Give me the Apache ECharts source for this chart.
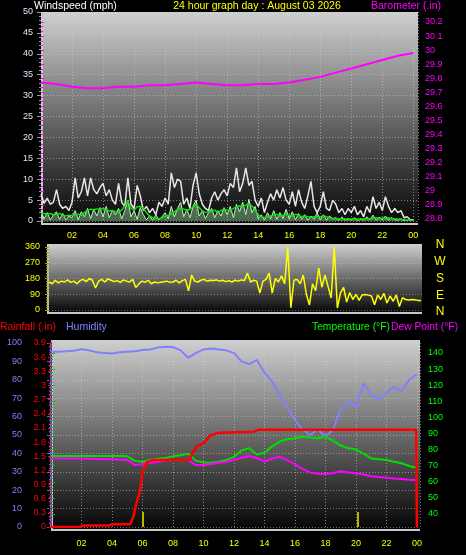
<!DOCTYPE html>
<html><head><meta charset="utf-8">
<script src="https://cdn.jsdelivr.net/npm/echarts@6/dist/echarts.min.js"></script>
<style>html,body{margin:0;padding:0;background:#000;}#c{width:466px;height:555px;}</style>
</head><body><div id="c"></div>
<script>
// ---------- DATA ----------
const titleText = '24 hour graph day : August 03 2026';
const windStep = 0.2; // hours between wind samples
const windGust = [
 6.5,4.2,5.5,4.0,4.5, 7.5,4.0,3.0,3.5,2.5, 4.5,10.3,5.5,7.0,10.3, 6.0,10.3,7.5,6.5,8.0,
 9.0,6.0,7.5,5.0,4.0, 9.0,4.5,3.5,10.3,4.0, 3.0,8.5,6.0,2.5,3.5, 2.0,3.0,1.5,4.5,3.5,
 5.5,4.0,11.5,8.0,10.0, 9.5,4.0,5.5,3.0,8.5, 11.5,6.5,4.0,3.0,2.5, 5.5,7.0,5.0,6.5,7.5,
 6.0,9.0,8.0,12.7,7.0, 9.0,12.7,8.5,9.5,5.0, 3.5,5.5,2.0,4.5,6.5, 5.0,7.5,5.5,8.0,5.0,
 4.0,7.0,3.5,7.5,4.5, 3.0,6.0,9.5,3.5,2.0, 3.5,7.0,3.0,2.5,5.0, 4.0,2.0,3.0,1.5,3.0,
 2.0,3.5,1.5,2.5,1.0, 3.5,2.0,5.8,3.0,4.5, 2.5,5.8,3.5,2.0,3.0, 2.0,2.5,0.8,1.0,0.3, 0.3];
const windSpeed = [
 2.5,0.5,2.0,0.3,1.5, 2.2,0.4,1.8,0.3,1.2, 0.8,2.5,0.3,2.2,1.0, 3.0,0.6,2.8,1.2,3.2,
 1.0,3.5,0.8,2.6,1.5, 3.0,0.5,2.5,5.0,1.0, 2.5,0.4,3.2,1.5,0.3, 1.2,0.2,1.5,0.3,1.0,
 2.0,0.5,3.5,1.0,3.0, 4.5,1.0,2.8,0.8,3.5, 5.0,1.2,2.5,0.6,2.0, 3.0,0.8,2.5,1.2,3.2,
 1.5,3.5,0.8,4.0,2.2, 4.5,1.5,5.2,2.0,3.5, 0.5,1.5,0.2,2.0,0.5, 2.5,0.4,2.0,0.6,2.8,
 0.5,2.2,0.3,1.8,0.4, 1.5,0.2,1.2,0.4,2.0, 0.3,1.5,0.2,1.2,0.5, 0.8,0.2,1.0,0.2,0.6,
 0.2,0.8,0.1,0.6,0.2, 1.0,0.3,1.4,0.2,0.9, 0.3,1.2,0.2,0.8,0.3, 0.2,0.5,0.1,0.2,0.1, 0.1];
const windAvg = [
 1.8,1.8,1.6,1.8,1.5, 1.6,1.8,1.4,1.2,1.4, 1.3,1.5,1.6,1.4,2.0, 2.6,2.8,2.7,2.9,2.8,
 3.0,2.7,2.4,2.5,2.2, 2.0,2.6,3.6,4.8,3.0, 2.6,3.4,3.5,3.0,2.0, 1.2,0.8,0.6,0.5,0.8,
 1.0,1.4,1.6,2.2,2.8, 3.0,2.9,2.5,2.8,3.4, 3.8,3.2,2.4,2.0,2.2, 2.4,2.6,2.0,2.5,2.8,
 2.6,2.4,3.0,3.4,3.6, 3.4,3.8,3.9,3.6,2.6, 1.4,1.0,0.8,1.0,1.2, 1.4,1.6,1.2,1.4,1.6,
 1.4,1.2,1.6,1.3,1.0, 1.2,1.0,0.9,1.0,1.1, 1.0,1.2,1.0,0.8,0.6, 0.6,0.5,0.6,0.5,0.4,
 0.5,0.6,0.5,0.4,0.5, 0.6,0.5,0.7,0.8,0.6, 0.7,0.6,0.8,0.6,0.5, 0.5,0.4,0.3,0.2,0.2, 0.2];
const windDir = [
 160,150,170,155,165, 160,172,158,165,150, 168,175,162,180,170, 126,165,175,160,178,
 170,162,168,158,172, 165,160,175,128,150, 165,158,170,150,160, 155,158,162,165,158,
 160,170,155,168,175, 110,200,165,160,170, 175,165,170,168,172, 165,170,162,168,160,
 170,165,172,168,211, 160,170,165,97,165, 175,211,97,180,160, 195,150,360,13,170,
 175,150,200,90,29, 150,110,240,130,200, 135,69,360,11,97, 130,45,100,60,90,
 55,86,88,85,80, 30,86,60,95,40, 80,50,86,20,70, 60,57,60,58,55, 55];
const baroStep = 1;
const barometer = [29.77,29.76,29.74,29.73,29.73,29.74,29.74,29.75,29.75,29.76,29.77,29.76,29.75,
 29.75,29.76,29.76,29.77,29.79,29.81,29.84,29.87,29.90,29.93,29.96,29.98];
const climStep = 0.5;
const humidity = [95.3,95.3,95.5,95.8,96.6,96.0,95.0,94.5,94.3,95.0,95.3,95.5,96.2,96.5,97.5,98.0,97.8,96.0,
 92.0,94.5,96.5,97.0,96.5,96.0,94.5,90.0,88.5,90.8,84.0,79.0,72.0,65.0,58.0,53.0,50.0,53.0,49.0,53.0,
 64.0,68.0,65.0,78.0,72.0,69.0,73.0,76.0,74.0,80.0,83.0];
const temperature = [76,76,76,76,76,76,76,76,76,76,75.8,73,72.5,73.5,74.3,74.8,75.8,76.5,77.5,73,72.2,71.9,
 72.5,73.5,75.5,79.5,80.8,77,78,82,85,86.5,87,88,87.5,87,88,85.5,82.5,80.8,80,77.5,74.5,74,73.5,72.5,
 71.5,69.8,68.6];
const dewPoint = [74.6,74.6,74.5,74.4,74.4,74.3,74.2,74.1,74.0,73.9,73.6,70.4,71.0,71.9,72.5,73.0,73.5,73.5,
 73.5,70.4,70.4,71.0,71.8,72.5,73.5,75,76,74.8,72.5,74.5,75.5,73.5,70.8,68,65.7,65,64.8,65.5,66.5,65.8,
 65.3,64.5,63.5,63,62.5,62,61.8,61.2,61];
const rainHours = [0,1.9,2.1,3.8,4.0,5.2,5.4,5.6,5.8,6.0,6.3,6.7,9.1,9.2,9.6,10.0,10.4,11.0,13.3,13.6,23.95,24.0];
const rainValues = [0,0,0.03,0.03,0.06,0.06,0.22,0.5,0.71,1.17,1.38,1.42,1.42,1.53,1.72,1.77,1.93,2.0,2.02,2.06,2.06,0];
const markerHours = [6.0, 20.15];
const markerTop = 0.32;
const dirLetters = ['N','W','S','E','N'];

// ---------- CHART ----------
const pair = (arr, step) => arr.map((v, i) => [+(i * step).toFixed(3), v]);
const hourFmt = v => {
  if (v === 0 || Math.abs(v - Math.round(v)) > 1e-6) return '';
  const h = Math.round(v) % 24;
  return (h < 10 ? '0' : '') + h;
};
const FONT = '"Liberation Sans", Arial, sans-serif';
const dotted = c => ({show: true, lineStyle: {color: c, type: [1, 2], width: 1}});
const bg = (x, y, w, h) => ({
  type: 'rect', z: -10, shape: {x, y, width: w, height: h},
  style: {fill: new echarts.graphic.LinearGradient(0, 0, 0, 1, [
    {offset: 0, color: '#cfcfcf'}, {offset: 0.5, color: '#6a6a6a'}, {offset: 1, color: '#050505'}])}
});
const edge = (x1, y1, x2, y2) => ({type: 'line', z: -5, shape: {x1, y1, x2, y2}, style: {stroke: '#c8c8c8', lineWidth: 2}});
const txt = (text, x, y, color, size, align) => ({type: 'text', z: 50, x, y,
  style: {text, fill: color, font: size + 'px ' + FONT, textAlign: align || 'left', textVerticalAlign: 'middle'}});

const chart = echarts.init(document.getElementById('c'), null, {renderer: 'canvas'});
const letterY = [245, 262, 279, 296, 312];
chart.setOption({
  backgroundColor: '#000',
  animation: false,
  graphic: [
    bg(41, 12, 377, 212), bg(47, 244, 375, 69), bg(51, 340, 369, 190),
    edge(42, 12, 42, 224), edge(41, 224, 418, 224),
    edge(48, 244, 48, 313), edge(47, 313, 422, 313),
    edge(52, 340, 52, 530), edge(51, 530, 420, 530),
    txt('Windspeed (mph)', 34, 6, '#ffffff', 10.5),
    txt(titleText, 257, 6, '#ffff00', 10.5, 'center'),
    txt('Barometer (.in)', 371, 6, '#ff00ff', 10.5),
    txt('Rainfall (.in)', 0, 327, '#ff0000', 10.5),
    txt('Humidity', 66, 327, '#8080ff', 10.5),
    txt('Temperature (°F)', 312, 327, '#00ff00', 10.3),
    txt('Dew Point (°F)', 391, 327, '#ff00ff', 10.3)
  ].concat(dirLetters.map((l, i) => txt(l, 440, letterY[i], '#ffff00', 12, 'center'))),
  grid: [
    {left: 41, top: 12, width: 377, height: 209},
    {left: 41, top: 22, width: 377, height: 197},
    {left: 49, top: 247, width: 373, height: 63},
    {left: 51, top: 343, width: 369, height: 184},
    {left: 51, top: 353, width: 369, height: 161}
  ],
  xAxis: [
    {gridIndex: 0, type: 'value', min: 0, max: 24.3, interval: 2,
     axisLine: {show: false}, axisTick: {show: false},
     axisLabel: {color: '#ffff00', fontSize: 9, fontFamily: FONT, margin: 10, formatter: hourFmt},
     splitLine: dotted('rgba(210,210,210,0.55)')},
    {gridIndex: 1, type: 'value', min: 0, max: 24.3, show: false},
    {gridIndex: 2, type: 'value', min: 0, max: 24.06, show: false},
    {gridIndex: 3, type: 'value', min: 0, max: 24.2, interval: 2,
     axisLine: {show: false}, axisTick: {show: false},
     axisLabel: {color: '#ffff00', fontSize: 9, fontFamily: FONT, margin: 12, formatter: hourFmt},
     splitLine: dotted('rgba(210,210,210,0.55)')},
    {gridIndex: 4, type: 'value', min: 0, max: 24.2, show: false}
  ],
  yAxis: [
    {gridIndex: 0, type: 'value', min: 0, max: 50, interval: 5, position: 'left',
     axisLine: {show: false},
     axisTick: {show: true, length: 4, lineStyle: {color: '#9a9a9a'}},
     minorTick: {show: true, splitNumber: 5, length: 2, lineStyle: {color: '#9a9a9a'}},
     axisLabel: {color: '#dde8ff', fontSize: 9, fontFamily: FONT, margin: 8},
     splitLine: dotted('rgba(210,210,210,0.55)')},
    {gridIndex: 1, type: 'value', min: 28.8, max: 30.2, interval: 0.1, position: 'right',
     axisLine: {show: false},
     axisTick: {show: true, length: 3, lineStyle: {color: '#ff00ff'}},
     minorTick: {show: true, splitNumber: 3, length: 2, lineStyle: {color: '#ff00ff'}},
     axisLabel: {color: '#ff00ff', fontSize: 9, fontFamily: FONT, margin: 7},
     splitLine: {show: false}},
    {gridIndex: 2, type: 'value', min: 0, max: 360, interval: 90, position: 'left',
     axisLine: {show: false},
     axisTick: {show: true, length: 4, lineStyle: {color: '#a0a000'}},
     minorTick: {show: true, splitNumber: 6, length: 3, lineStyle: {color: '#a0a000'}},
     axisLabel: {color: '#ffff00', fontSize: 9, fontFamily: FONT, margin: 9},
     splitLine: dotted('rgba(210,210,210,0.45)')},
    {gridIndex: 3, type: 'value', min: 0, max: 100, interval: 10, position: 'left', offset: 21,
     axisLine: {show: true, lineStyle: {color: '#6060ff', width: 2}},
     axisTick: {show: true, length: 4, lineStyle: {color: '#6060ff'}},
     minorTick: {show: true, splitNumber: 5, length: 2, lineStyle: {color: '#6060ff'}},
     axisLabel: {color: '#8080ff', fontSize: 9, fontFamily: FONT, margin: 8},
     splitLine: dotted('rgba(210,210,210,0.5)')},
    {gridIndex: 3, type: 'value', min: 0, max: 3.9, interval: 0.3, position: 'left',
     axisLine: {show: true, lineStyle: {color: '#cc0000', type: [1, 2], width: 1}},
     axisTick: {show: true, length: 3, lineStyle: {color: '#ff0000'}},
     minorTick: {show: true, splitNumber: 3, length: 2, lineStyle: {color: '#cc0000'}},
     axisLabel: {color: '#ff0000', fontSize: 9, fontFamily: FONT, margin: 5},
     splitLine: {show: false}},
    {gridIndex: 4, type: 'value', min: 40, max: 140, interval: 10, position: 'right',
     axisLine: {show: false},
     axisTick: {show: true, length: 4, lineStyle: {color: '#00c000'}},
     minorTick: {show: true, splitNumber: 5, length: 2, lineStyle: {color: '#00c000'}},
     axisLabel: {color: '#00ff00', fontSize: 9, fontFamily: FONT, margin: 8},
     splitLine: {show: false}}
  ],
  series: [
    {type: 'line', name: 'Wind speed', xAxisIndex: 0, yAxisIndex: 0, symbol: 'none', z: 3,
     data: pair(windSpeed, windStep), lineStyle: {color: '#b8f5b8', width: 1},
     areaStyle: {color: 'rgba(170,235,170,0.6)'}},
    {type: 'line', name: 'Gust', xAxisIndex: 0, yAxisIndex: 0, symbol: 'none', z: 4,
     data: pair(windGust, windStep), lineStyle: {color: '#e6e6e6', width: 1.5}},
    {type: 'line', name: 'Average', xAxisIndex: 0, yAxisIndex: 0, symbol: 'none', z: 5,
     data: pair(windAvg, windStep), lineStyle: {color: '#10e010', width: 1.5}},
    {type: 'line', name: 'Barometer', xAxisIndex: 1, yAxisIndex: 1, symbol: 'none', z: 6,
     data: pair(barometer, baroStep), lineStyle: {color: '#ff00ff', width: 2}},
    {type: 'line', name: 'Wind dir', xAxisIndex: 2, yAxisIndex: 2, symbol: 'none', z: 4,
     data: pair(windDir, windStep), lineStyle: {color: '#ffff00', width: 1.5}},
    {type: 'line', name: 'Humidity', xAxisIndex: 3, yAxisIndex: 3, symbol: 'none', z: 4,
     data: pair(humidity, climStep), lineStyle: {color: '#8080ff', width: 2}},
    {type: 'line', name: 'Temperature', xAxisIndex: 4, yAxisIndex: 5, symbol: 'none', z: 5,
     data: pair(temperature, climStep), lineStyle: {color: '#00e000', width: 2}},
    {type: 'line', name: 'Dew Point', xAxisIndex: 4, yAxisIndex: 5, symbol: 'none', z: 5,
     data: pair(dewPoint, climStep), lineStyle: {color: '#ff00ff', width: 2}},
    {type: 'line', name: 'Rainfall', xAxisIndex: 3, yAxisIndex: 4, symbol: 'none', z: 7,
     data: rainHours.map((h, i) => [h, rainValues[i]]), lineStyle: {color: '#ff0000', width: 2.5},
     markLine: {silent: true, symbol: 'none', label: {show: false},
       lineStyle: {color: '#b8b800', width: 2, type: 'solid'},
       data: markerHours.map(h => [{coord: [h, 0]}, {coord: [h, markerTop]}])}}
  ]
});
</script></body></html>
